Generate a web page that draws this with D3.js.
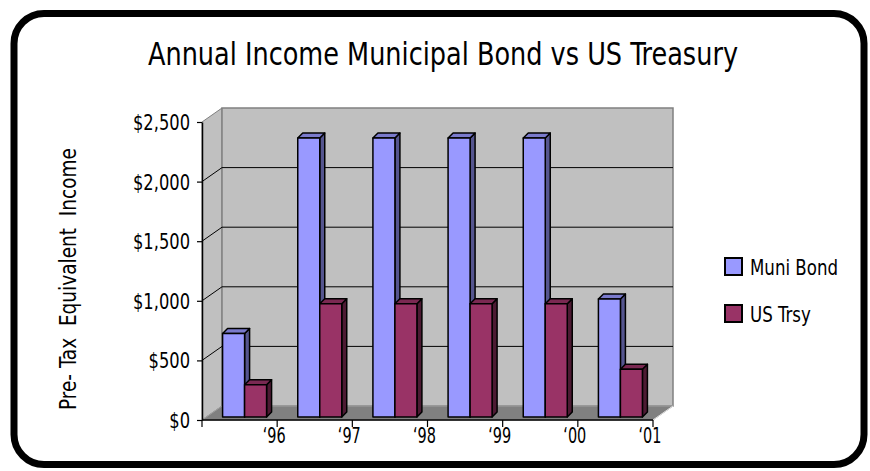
<!DOCTYPE html>
<html><head><meta charset="utf-8">
<script src="https://cdn.jsdelivr.net/npm/d3@7"></script>
<style>body{margin:0;background:#fff}text{font-family:"Liberation Sans Narrow","DejaVu Sans Condensed","Roboto Condensed",sans-serif;fill:#000}</style>
</head><body><svg id="c" width="870" height="471"></svg>
<script>
const years = ["\u201896","\u201897","\u201898","\u201899","\u201800","\u201801"];
const muniBond = [700, 2340, 2340, 2340, 2340, 990];
const usTrsy = [270, 950, 950, 950, 950, 400];
const yTicks = [0, 500, 1000, 1500, 2000, 2500];
const seriesNames = ["Muni Bond", "US Trsy"];
const seriesColors = [
  {front:"#9999ff", side:"#55558f", top:"#7a7acc"},
  {front:"#993366", side:"#4d1a33", top:"#7a2952"}
];
const titleText = "Annual Income Municipal Bond vs US Treasury";
const yTitle = "Pre- Tax  Equivalent  Income";

// compress a group of texts horizontally by a common ratio so that the reference text reaches target width
function squeeze(sel, refNode, target) {
  const ratio = target / refNode.getComputedTextLength();
  sel.each(function() {
    const w = this.getComputedTextLength();
    d3.select(this).attr("textLength", w * ratio).attr("lengthAdjust", "spacingAndGlyphs");
  });
}

const svg = d3.select("#c");
svg.append("rect").attr("x",14).attr("y",13.5).attr("width",850).attr("height",451)
  .attr("rx",30).attr("fill","#fff").attr("stroke","#000").attr("stroke-width",7);

const x = d3.scaleBand().domain(years).range([202,653]).padding(0);
const y = d3.scaleLinear().domain([0,2500]).range([420,122]);
const DX = 20, DY = -14;
const x0 = 202, x1 = 653;

svg.append("polygon")
  .attr("points",[[x0,y(0)],[x0,y(2500)],[x0+DX,y(2500)+DY],[x0+DX,y(0)+DY]].join(" "))
  .attr("fill","#c0c0c0").attr("stroke","#808080");
svg.append("rect").attr("x",x0+DX).attr("y",y(2500)+DY)
  .attr("width",x1-x0).attr("height",y(0)-y(2500))
  .attr("fill","#c0c0c0").attr("stroke","#808080").attr("stroke-width",1.5);
svg.append("polygon")
  .attr("points",[[x0,y(0)],[x1,y(0)],[x1+DX,y(0)+DY],[x0+DX,y(0)+DY]].join(" "))
  .attr("fill","#808080").attr("stroke","#a0a0a0");

const grid = yTicks.filter(t => t>0 && t<2500);
svg.append("g").selectAll("line").data(grid).join("line")
  .attr("x1",x0+DX).attr("x2",x1+DX).attr("y1",d=>y(d)+DY).attr("y2",d=>y(d)+DY)
  .attr("stroke","#000").attr("stroke-width",1);
svg.append("g").selectAll("line").data(grid).join("line")
  .attr("x1",x0).attr("x2",x0+DX).attr("y1",d=>y(d)).attr("y2",d=>y(d)+DY)
  .attr("stroke","#000").attr("stroke-width",1);

const BW = 22, BDX = 5, BDY = -5, FDY = -3;
const series = [muniBond, usTrsy];
years.forEach((yr,i) => {
  series.forEach((vals,s) => {
    const v = vals[i];
    const bx = x(yr) + (x.bandwidth() - 2*BW)/2 + 5 + s*BW;
    const base = y(0) + FDY, top = y(v) + FDY;
    const c = seriesColors[s];
    const g = svg.append("g").attr("stroke","#000").attr("stroke-width",1.5).attr("stroke-linejoin","round");
    g.append("polygon").attr("fill",c.side)
      .attr("points",[[bx+BW,top],[bx+BW+BDX,top+BDY],[bx+BW+BDX,base+BDY],[bx+BW,base]].join(" "));
    g.append("polygon").attr("fill",c.top)
      .attr("points",[[bx,top],[bx+BDX,top+BDY],[bx+BW+BDX,top+BDY],[bx+BW,top]].join(" "));
    g.append("rect").attr("fill",c.front).attr("x",bx).attr("y",top).attr("width",BW).attr("height",base-top);
  });
});

// y axis
const yAxis = d3.axisLeft(y).tickValues(yTicks).tickSize(5).tickSizeOuter(0).tickPadding(7)
  .tickFormat(d => "$" + d3.format(",")(d));
const ya = svg.append("g").attr("transform",`translate(${x0},0)`).call(yAxis);
ya.select(".domain").attr("stroke","#000").attr("stroke-width",1.5);
ya.selectAll(".tick line").attr("stroke","#000").attr("stroke-width",1.2);
const yt = ya.selectAll(".tick text").attr("font-size",21).attr("dy","0.36em")
  .style("font-family",'"Liberation Sans Narrow","DejaVu Sans Condensed",sans-serif');
squeeze(yt, yt.filter(d => d === 2500).node(), 57);

// x axis
svg.append("line").attr("x1",x0).attr("x2",x1).attr("y1",y(0)).attr("y2",y(0))
  .attr("stroke","#000").attr("stroke-width",1.5);
svg.append("line").attr("x1",x1).attr("x2",x1+DX).attr("y1",y(0)).attr("y2",y(0)+DY)
  .attr("stroke","#e0e0e0").attr("stroke-width",1);
const bounds = years.map(d => x(d)).concat([x1]);
svg.append("g").selectAll("line").data(bounds).join("line")
  .attr("x1",d=>d).attr("x2",d=>d).attr("y1",y(0)).attr("y2",y(0)+7)
  .attr("stroke","#000").attr("stroke-width",1.2);
const xt = svg.append("g").selectAll("text").data(years).join("text")
  .attr("x",d => x(d)+x.bandwidth()-3).attr("y",443)
  .attr("text-anchor","middle").attr("font-size",22).text(d=>d);
squeeze(xt, xt.node(), 23);

// title
const tt = svg.append("text").attr("x",443).attr("y",65).attr("text-anchor","middle")
  .attr("font-size",32).text(titleText);
squeeze(tt, tt.node(), 590);
// y title
const yTi = svg.append("text").attr("transform","translate(76,279) rotate(-90)")
  .attr("text-anchor","middle").attr("font-size",23).style("white-space","pre").text(yTitle);
squeeze(yTi, yTi.node(), 262);

// legend
const lg = svg.append("g");
const lt = [];
seriesNames.forEach((n,i) => {
  lg.append("rect").attr("x",725).attr("y",258+i*47).attr("width",17).attr("height",17)
    .attr("fill",seriesColors[i].front).attr("stroke","#000").attr("stroke-width",2);
  lg.append("text").attr("class","lt").attr("x",750).attr("y",275+i*47).attr("font-size",22).text(n);
});
const lts = lg.selectAll("text.lt");
squeeze(lts, lts.node(), 88);
</script></body></html>
